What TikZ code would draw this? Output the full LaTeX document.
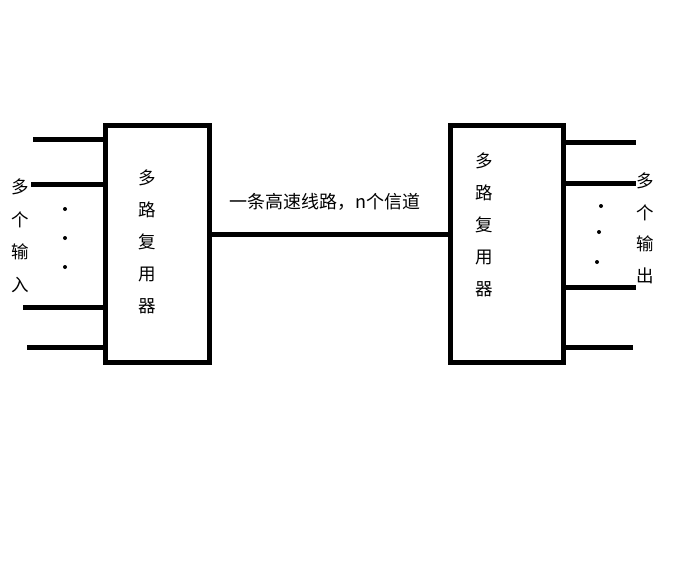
\documentclass[tikz,border=0pt]{standalone}
\usepackage{fontspec}
\newfontfamily\cjk{Noto Sans CJK SC}
\usetikzlibrary{positioning,calc}

\begin{document}
\begin{tikzpicture}[x=1pt,y=-1pt,
  muxbox/.style={draw,line width=5pt,minimum width=104pt,minimum height=237pt,inner sep=0pt},
  wire/.style={line width=5pt},
  vtext/.style={font=\cjk\fontsize{17.5}{32}\selectfont,align=center,inner sep=0pt},
  dotmark/.style={circle,fill,inner sep=0pt,minimum size=4pt}]
\useasboundingbox (0,0) rectangle (696,560);
\node[muxbox] (muxL) at (157,243.5) {};
\node[muxbox,minimum width=113pt] (muxR) at (507,243.5) {};
\node[vtext] (nameL) at (147,241.5) {多\\路\\复\\用\\器};
\node[vtext] (nameR) at (484,225) {多\\路\\复\\用\\器};
% inputs
\coordinate (in1) at (33,139);
\coordinate (in2) at (31,184);
\coordinate (in3) at (23,307);
\coordinate (in4) at (27,347);
\foreach \i in {1,...,4}
  \draw[wire] (in\i) -- (in\i -| muxL.west);
\node[vtext,font=\cjk\fontsize{17.5}{32.5}\selectfont] (inlabel) at (20,236) {多\\个\\输\\入};
\foreach \y [count=\k] in {209,238,267}
  \node[dotmark] (din\k) at (65,\y) {};
% outputs
\coordinate (out1) at (636,142);
\coordinate (out2) at (636,183);
\coordinate (out3) at (636,287);
\coordinate (out4) at (633,347);
\foreach \i in {1,...,4}
  \draw[wire] (out\i -| muxR.east) -- (out\i);
\node[vtext,font=\cjk\fontsize{17.5}{31.5}\selectfont] (outlabel) at (645,228.5) {多\\个\\输\\出};
\foreach \x/\y [count=\k] in {601/206,599/232,597/262}
  \node[dotmark] (dout\k) at (\x,\y) {};
% trunk line
\draw[wire] (muxL.east |- 0,234) -- (muxR.west |- 0,234);
\node[font=\cjk\fontsize{18}{20}\selectfont,inner sep=0pt] (trunk) at (325,202) {一条高速线路，n个信道};
\end{tikzpicture}
\end{document}
